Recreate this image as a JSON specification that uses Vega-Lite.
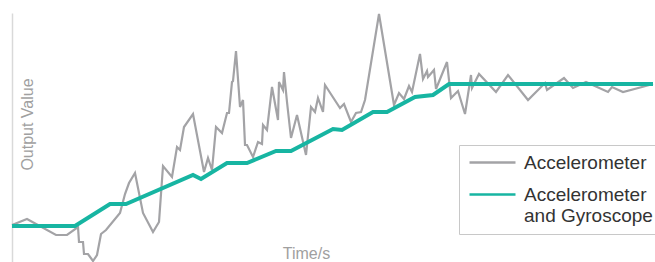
{
  "$schema": "https://vega.github.io/schema/vega-lite/v6.json",
  "autosize": {"type": "none"},
  "width": 641,
  "height": 249,
  "padding": {"left": 12, "top": 13, "right": 2, "bottom": 0},
  "background": "white",
  "config": {
    "view": {"stroke": null},
    "font": "Liberation Sans"
  },
  "data": {
    "values": [
      {"t": 12, "v": 37, "series": "Accelerometer"},
      {"t": 27, "v": 43, "series": "Accelerometer"},
      {"t": 56, "v": 27, "series": "Accelerometer"},
      {"t": 67, "v": 27, "series": "Accelerometer"},
      {"t": 78, "v": 35, "series": "Accelerometer"},
      {"t": 79, "v": 20, "series": "Accelerometer"},
      {"t": 83, "v": 20, "series": "Accelerometer"},
      {"t": 84, "v": 8, "series": "Accelerometer"},
      {"t": 88, "v": 8, "series": "Accelerometer"},
      {"t": 93, "v": 1, "series": "Accelerometer"},
      {"t": 97, "v": 7, "series": "Accelerometer"},
      {"t": 101, "v": 28, "series": "Accelerometer"},
      {"t": 106, "v": 32, "series": "Accelerometer"},
      {"t": 120, "v": 49, "series": "Accelerometer"},
      {"t": 125, "v": 68, "series": "Accelerometer"},
      {"t": 129, "v": 79, "series": "Accelerometer"},
      {"t": 135, "v": 89, "series": "Accelerometer"},
      {"t": 143, "v": 49, "series": "Accelerometer"},
      {"t": 153, "v": 30, "series": "Accelerometer"},
      {"t": 159, "v": 40, "series": "Accelerometer"},
      {"t": 163, "v": 96, "series": "Accelerometer"},
      {"t": 172, "v": 85, "series": "Accelerometer"},
      {"t": 177, "v": 115, "series": "Accelerometer"},
      {"t": 180, "v": 112, "series": "Accelerometer"},
      {"t": 184, "v": 135, "series": "Accelerometer"},
      {"t": 193, "v": 148, "series": "Accelerometer"},
      {"t": 204, "v": 90, "series": "Accelerometer"},
      {"t": 208, "v": 104, "series": "Accelerometer"},
      {"t": 212, "v": 92, "series": "Accelerometer"},
      {"t": 216, "v": 135, "series": "Accelerometer"},
      {"t": 222, "v": 129, "series": "Accelerometer"},
      {"t": 227, "v": 149, "series": "Accelerometer"},
      {"t": 229, "v": 149, "series": "Accelerometer"},
      {"t": 232, "v": 180, "series": "Accelerometer"},
      {"t": 233, "v": 181, "series": "Accelerometer"},
      {"t": 236, "v": 211, "series": "Accelerometer"},
      {"t": 240, "v": 155, "series": "Accelerometer"},
      {"t": 243, "v": 162, "series": "Accelerometer"},
      {"t": 245, "v": 117, "series": "Accelerometer"},
      {"t": 247, "v": 117, "series": "Accelerometer"},
      {"t": 253, "v": 105, "series": "Accelerometer"},
      {"t": 258, "v": 120, "series": "Accelerometer"},
      {"t": 262, "v": 118, "series": "Accelerometer"},
      {"t": 263, "v": 137, "series": "Accelerometer"},
      {"t": 267, "v": 132, "series": "Accelerometer"},
      {"t": 272, "v": 175, "series": "Accelerometer"},
      {"t": 278, "v": 142, "series": "Accelerometer"},
      {"t": 279, "v": 180, "series": "Accelerometer"},
      {"t": 283, "v": 172, "series": "Accelerometer"},
      {"t": 284, "v": 190, "series": "Accelerometer"},
      {"t": 287, "v": 160, "series": "Accelerometer"},
      {"t": 291, "v": 124, "series": "Accelerometer"},
      {"t": 297, "v": 147, "series": "Accelerometer"},
      {"t": 306, "v": 107, "series": "Accelerometer"},
      {"t": 311, "v": 155, "series": "Accelerometer"},
      {"t": 315, "v": 150, "series": "Accelerometer"},
      {"t": 318, "v": 164, "series": "Accelerometer"},
      {"t": 323, "v": 150, "series": "Accelerometer"},
      {"t": 325, "v": 177, "series": "Accelerometer"},
      {"t": 340, "v": 154, "series": "Accelerometer"},
      {"t": 344, "v": 158, "series": "Accelerometer"},
      {"t": 351, "v": 140, "series": "Accelerometer"},
      {"t": 356, "v": 149, "series": "Accelerometer"},
      {"t": 361, "v": 150, "series": "Accelerometer"},
      {"t": 365, "v": 162, "series": "Accelerometer"},
      {"t": 379, "v": 248, "series": "Accelerometer"},
      {"t": 394, "v": 157, "series": "Accelerometer"},
      {"t": 399, "v": 169, "series": "Accelerometer"},
      {"t": 404, "v": 163, "series": "Accelerometer"},
      {"t": 409, "v": 176, "series": "Accelerometer"},
      {"t": 412, "v": 170, "series": "Accelerometer"},
      {"t": 420, "v": 208, "series": "Accelerometer"},
      {"t": 423, "v": 183, "series": "Accelerometer"},
      {"t": 427, "v": 191, "series": "Accelerometer"},
      {"t": 428, "v": 185, "series": "Accelerometer"},
      {"t": 434, "v": 192, "series": "Accelerometer"},
      {"t": 436, "v": 173, "series": "Accelerometer"},
      {"t": 447, "v": 200, "series": "Accelerometer"},
      {"t": 451, "v": 164, "series": "Accelerometer"},
      {"t": 458, "v": 171, "series": "Accelerometer"},
      {"t": 465, "v": 148, "series": "Accelerometer"},
      {"t": 471, "v": 187, "series": "Accelerometer"},
      {"t": 472, "v": 174, "series": "Accelerometer"},
      {"t": 479, "v": 188, "series": "Accelerometer"},
      {"t": 496, "v": 170, "series": "Accelerometer"},
      {"t": 508, "v": 187, "series": "Accelerometer"},
      {"t": 528, "v": 162, "series": "Accelerometer"},
      {"t": 545, "v": 179, "series": "Accelerometer"},
      {"t": 547, "v": 172, "series": "Accelerometer"},
      {"t": 564, "v": 184, "series": "Accelerometer"},
      {"t": 573, "v": 174, "series": "Accelerometer"},
      {"t": 586, "v": 180, "series": "Accelerometer"},
      {"t": 608, "v": 170, "series": "Accelerometer"},
      {"t": 612, "v": 175, "series": "Accelerometer"},
      {"t": 623, "v": 170, "series": "Accelerometer"},
      {"t": 642, "v": 175, "series": "Accelerometer"},
      {"t": 653, "v": 178, "series": "Accelerometer"},
      {"t": 12, "v": 36, "series": "Accelerometer and Gyroscope"},
      {"t": 75, "v": 36, "series": "Accelerometer and Gyroscope"},
      {"t": 110, "v": 58, "series": "Accelerometer and Gyroscope"},
      {"t": 126, "v": 58, "series": "Accelerometer and Gyroscope"},
      {"t": 193, "v": 87, "series": "Accelerometer and Gyroscope"},
      {"t": 201, "v": 83, "series": "Accelerometer and Gyroscope"},
      {"t": 227, "v": 99, "series": "Accelerometer and Gyroscope"},
      {"t": 247, "v": 99, "series": "Accelerometer and Gyroscope"},
      {"t": 276, "v": 111, "series": "Accelerometer and Gyroscope"},
      {"t": 291, "v": 111, "series": "Accelerometer and Gyroscope"},
      {"t": 333, "v": 133, "series": "Accelerometer and Gyroscope"},
      {"t": 342, "v": 132, "series": "Accelerometer and Gyroscope"},
      {"t": 373, "v": 150, "series": "Accelerometer and Gyroscope"},
      {"t": 387, "v": 150, "series": "Accelerometer and Gyroscope"},
      {"t": 415, "v": 165, "series": "Accelerometer and Gyroscope"},
      {"t": 433, "v": 167, "series": "Accelerometer and Gyroscope"},
      {"t": 449, "v": 178, "series": "Accelerometer and Gyroscope"},
      {"t": 653, "v": 178, "series": "Accelerometer and Gyroscope"}
    ]
  },
  "encoding": {
    "x": {
      "field": "t",
      "type": "quantitative",
      "scale": {"domain": [12, 653], "nice": false, "zero": false},
      "axis": {
        "title": "Time/s",
        "domain": false,
        "ticks": false,
        "labels": false,
        "grid": false,
        "titleX": 294,
        "titleY": -9,
        "titleBaseline": "middle",
        "titleAlign": "center",
        "titleFontSize": 16,
        "titleFontWeight": "normal",
        "titleColor": "#a0a0a0",
        "titleFont": "Liberation Sans"
      }
    },
    "y": {
      "field": "v",
      "type": "quantitative",
      "scale": {"domain": [0, 249], "nice": false, "zero": false},
      "axis": {
        "title": "Output Value",
        "domain": true,
        "domainColor": "#d9d9d9",
        "domainWidth": 1.5,
        "ticks": false,
        "labels": false,
        "grid": false,
        "titleAngle": -90,
        "titleX": 15,
        "titleY": 111,
        "titleBaseline": "middle",
        "titleAlign": "center",
        "titleFontSize": 16,
        "titleFontWeight": "normal",
        "titleColor": "#a0a0a0",
        "titleFont": "Liberation Sans"
      }
    },
    "color": {
      "field": "series",
      "type": "nominal",
      "scale": {
        "domain": ["Accelerometer", "Accelerometer and Gyroscope"],
        "range": ["#a3a3a6", "#17b5a2"]
      },
      "legend": {
        "title": null,
        "orient": "none",
        "legendX": 447,
        "legendY": 132,
        "padding": 8,
        "strokeColor": "#c8c8c8",
        "fillColor": "white",
        "symbolType": "M-3,0L3,0",
        "symbolSize": 235,
        "symbolStrokeWidth": 2.5,
        "symbolOffset": 16,
        "labelOffset": 22,
        "labelFontSize": 19,
        "labelFont": "Liberation Sans",
        "labelColor": "#333333",
        "labelLimit": 200,
        "rowPadding": 12,
        "labelExpr": "datum.label == 'Accelerometer and Gyroscope' ? ['Accelerometer', 'and Gyroscope'] : datum.label"
      }
    }
  },
  "layer": [
    {
      "transform": [{"filter": "datum.series == 'Accelerometer'"}],
      "mark": {"type": "line", "strokeWidth": 2.2}
    },
    {
      "transform": [{"filter": "datum.series == 'Accelerometer and Gyroscope'"}],
      "mark": {"type": "line", "strokeWidth": 4}
    }
  ]
}
